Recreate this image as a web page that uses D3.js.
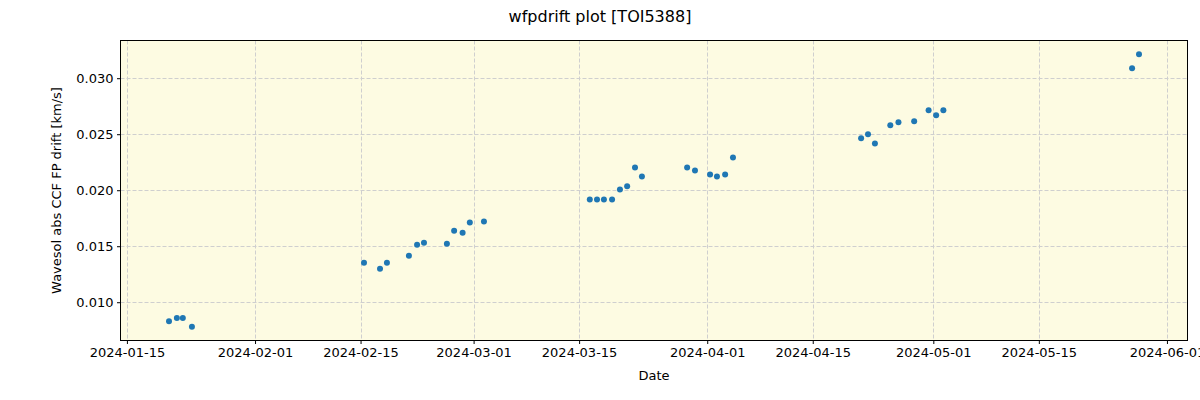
<!DOCTYPE html>
<html>
<head>
<meta charset="utf-8">
<script src="https://cdn.jsdelivr.net/npm/d3@7"></script>
<style>
  html, body { margin: 0; padding: 0; background: #ffffff; }
  svg { display: block; font-family: "DejaVu Sans", sans-serif; }
</style>
</head>
<body>
<svg id="chart" width="1200" height="400"></svg>
<script>
// ---- data ----
const dates = [
  "2024-01-20T14:00", "2024-01-21T15:00", "2024-01-22T10:00", "2024-01-23T15:00",
  "2024-02-15T11:00", "2024-02-17T14:00", "2024-02-18T12:00", "2024-02-21T10:00",
  "2024-02-22T12:00", "2024-02-23T10:00", "2024-02-26T11:00", "2024-02-27T10:00",
  "2024-02-28T13:00", "2024-02-29T12:00", "2024-03-02T09:00",
  "2024-03-16T10:00", "2024-03-17T09:00", "2024-03-18T07:00", "2024-03-19T09:00",
  "2024-03-20T10:00", "2024-03-21T09:00", "2024-03-22T10:00", "2024-03-23T08:00",
  "2024-03-29T08:00", "2024-03-30T09:00", "2024-04-01T09:00", "2024-04-02T07:00",
  "2024-04-03T09:00", "2024-04-04T10:00",
  "2024-04-21T10:00", "2024-04-22T08:00", "2024-04-23T06:00", "2024-04-25T07:00",
  "2024-04-26T09:00", "2024-04-28T11:00", "2024-04-30T09:00", "2024-05-01T09:00",
  "2024-05-02T08:00",
  "2024-05-27T09:00", "2024-05-28T07:00"
];
const drift = [
  0.0083, 0.0086, 0.0086, 0.0078,
  0.01353, 0.01299, 0.01353, 0.01415,
  0.01514, 0.01532, 0.01523, 0.01639,
  0.01621, 0.01711, 0.0172,
  0.01917, 0.01917, 0.01917, 0.01917,
  0.02006, 0.02036, 0.02203, 0.02123,
  0.02203, 0.02176, 0.02141, 0.02123,
  0.02141, 0.02293,
  0.02463, 0.02499, 0.02418, 0.02579,
  0.02606, 0.02615, 0.02713, 0.02669,
  0.02713,
  0.0309, 0.03215
];
const xTickLabels = [
  "2024-01-15", "2024-02-01", "2024-02-15", "2024-03-01", "2024-03-15",
  "2024-04-01", "2024-04-15", "2024-05-01", "2024-05-15", "2024-06-01"
];
const yTickValues = [0.010, 0.015, 0.020, 0.025, 0.030];
const titleText = "wfpdrift plot [TOI5388]";
const xLabelText = "Date";
const yLabelText = "Wavesol abs CCF FP drift [km/s]";

// ---- layout ----
const W = 1200, H = 400;
const m = { left: 120.5, right: 1187.5, top: 40.5, bottom: 340.5 };

const parse = d3.utcParse("%Y-%m-%dT%H:%M");
const parseDay = d3.utcParse("%Y-%m-%d");
const data = dates.map((d, i) => ({ t: parse(d), v: drift[i] }));

// matplotlib-style 5% margins
const tExt = d3.extent(data, d => +d.t);
const tPad = (tExt[1] - tExt[0]) * 0.05;
const vExt = d3.extent(data, d => d.v);
const vPad = (vExt[1] - vExt[0]) * 0.05;

const x = d3.scaleUtc()
  .domain([new Date(tExt[0] - tPad), new Date(tExt[1] + tPad)])
  .range([m.left, m.right]);
const y = d3.scaleLinear()
  .domain([vExt[0] - vPad, vExt[1] + vPad])
  .range([m.bottom, m.top]);

const svg = d3.select("#chart");

// background of plot area
svg.append("rect")
  .attr("x", m.left).attr("y", m.top)
  .attr("width", m.right - m.left).attr("height", m.bottom - m.top)
  .attr("fill", "#fdfbe2");

const xTicks = xTickLabels.map(parseDay);

// grid
const grid = svg.append("g");
grid.selectAll("line.gx").data(xTicks).enter().append("line")
  .attr("x1", d => Math.round(x(d)) + 0.5).attr("x2", d => Math.round(x(d)) + 0.5)
  .attr("y1", m.top).attr("y2", m.bottom)
  .attr("stroke", "#cfcfcf").attr("stroke-width", 1)
  .attr("stroke-dasharray", "4,2");
grid.selectAll("line.gy").data(yTickValues).enter().append("line")
  .attr("x1", m.left).attr("x2", m.right)
  .attr("y1", d => Math.round(y(d)) + 0.5).attr("y2", d => Math.round(y(d)) + 0.5)
  .attr("stroke", "#cfcfcf").attr("stroke-width", 1)
  .attr("stroke-dasharray", "4,2");

// points
svg.append("g").selectAll("circle").data(data).enter().append("circle")
  .attr("cx", d => x(d.t)).attr("cy", d => y(d.v))
  .attr("r", 3).attr("fill", "#1f77b4");

// frame
svg.append("rect")
  .attr("x", m.left).attr("y", m.top)
  .attr("width", m.right - m.left).attr("height", m.bottom - m.top)
  .attr("fill", "none").attr("stroke", "#000").attr("stroke-width", 1);

// axes
const xAxis = d3.axisBottom(x)
  .tickValues(xTicks)
  .tickFormat(d3.utcFormat("%Y-%m-%d"))
  .tickSize(3.5).tickPadding(3.5);
const gx = svg.append("g").attr("transform", `translate(0,${m.bottom})`).call(xAxis);
gx.select(".domain").remove();
gx.selectAll("text").attr("font-size", "13px").attr("fill", "#000")
  .attr("font-family", "DejaVu Sans, sans-serif");
gx.selectAll("line").attr("stroke", "#000");

const yAxis = d3.axisLeft(y)
  .tickValues(yTickValues)
  .tickFormat(d3.format(".3f"))
  .tickSize(3.5).tickPadding(3.5);
const gy = svg.append("g").attr("transform", `translate(${m.left},0)`).call(yAxis);
gy.select(".domain").remove();
gy.selectAll("text").attr("font-size", "13px").attr("fill", "#000")
  .attr("font-family", "DejaVu Sans, sans-serif");
gy.selectAll("line").attr("stroke", "#000");

// labels
svg.append("text").attr("x", 600).attr("y", 22)
  .attr("text-anchor", "middle").attr("font-size", "16px").attr("fill", "#000")
  .text(titleText);
svg.append("text").attr("x", (m.left + m.right) / 2).attr("y", 380)
  .attr("text-anchor", "middle").attr("font-size", "13px").attr("fill", "#000")
  .text(xLabelText);
svg.append("text")
  .attr("transform", `translate(61,${(m.top + m.bottom) / 2}) rotate(-90)`)
  .attr("text-anchor", "middle").attr("font-size", "13px").attr("fill", "#000")
  .text(yLabelText);
</script>
</body>
</html>
